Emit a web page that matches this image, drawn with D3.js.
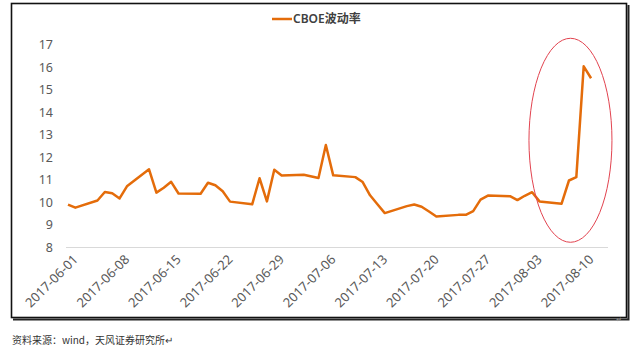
<!DOCTYPE html>
<html>
<head lang="zh">
	<meta charset="UTF-8">
	<title>CBOE波动率</title>
	<script src="https://cdnjs.cloudflare.com/ajax/libs/d3/7.8.5/d3.min.js"></script>
	<style type="text/css">
		body { margin: 0; background: #fff; }
		svg text { font-family: "Noto Sans", "Noto Sans CJK SC", sans-serif; }
	</style>
</head>
<body>
	<svg id="chart" width="640" height="355" version="1.1" xmlns="http://www.w3.org/2000/svg"></svg>
	<script type="text/javascript">
		// trading days and CBOE VIX close
		var dates = [
			'2017-06-01','2017-06-02','2017-06-05','2017-06-06','2017-06-07','2017-06-08','2017-06-09',
			'2017-06-12','2017-06-13','2017-06-14','2017-06-15','2017-06-16','2017-06-19','2017-06-20',
			'2017-06-21','2017-06-22','2017-06-23','2017-06-26','2017-06-27','2017-06-28','2017-06-29',
			'2017-06-30','2017-07-03','2017-07-05','2017-07-06','2017-07-07','2017-07-10','2017-07-11',
			'2017-07-12','2017-07-13','2017-07-14','2017-07-17','2017-07-18','2017-07-19','2017-07-20',
			'2017-07-21','2017-07-24','2017-07-25','2017-07-26','2017-07-27','2017-07-28','2017-07-31',
			'2017-08-01','2017-08-02','2017-08-03','2017-08-04','2017-08-07','2017-08-08','2017-08-09',
			'2017-08-10','2017-08-11'
		];
		var vix = [
			9.89, 9.75, 10.07, 10.45, 10.39, 10.16, 10.70,
			11.46, 10.42, 10.64, 10.90, 10.38, 10.37, 10.86,
			10.75, 10.48, 10.02, 9.90, 11.06, 10.03, 11.44,
			11.18, 11.22, 11.07, 12.54, 11.19, 11.11, 10.89,
			10.30, 9.90, 9.51, 9.82, 9.89, 9.79, 9.58,
			9.36, 9.43, 9.43, 9.60, 10.11, 10.29, 10.26,
			10.09, 10.28, 10.44, 10.03, 9.93, 10.96, 11.11,
			16.04, 15.51
		];
		var xTicks = ['2017-06-01','2017-06-08','2017-06-15','2017-06-22','2017-06-29','2017-07-06',
			'2017-07-13','2017-07-20','2017-07-27','2017-08-03','2017-08-10'];
		var yTicks = [8, 9, 10, 11, 12, 13, 14, 15, 16, 17];
		var seriesName = 'CBOE波动率';
		var source = '资料来源：wind，天风证券研究所↵';

		var parse = d3.timeParse('%Y-%m-%d');
		var fmt = d3.timeFormat('%Y-%m-%d');
		var points = dates.map(function (d, i) { return { date: parse(d), value: vix[i] }; });

		var orange = '#e46c0a';
		var svg = d3.select('#chart');

		// outer frame with a little shadow on right/bottom
		svg.append('path')
			.attr('d', 'M628.5,5V319.5H13')
			.attr('fill', 'none').attr('stroke', '#222').attr('stroke-width', 2);
		svg.append('rect')
			.attr('x', 11.5).attr('y', 3.5).attr('width', 615).attr('height', 314)
			.attr('fill', 'none').attr('stroke', '#111').attr('stroke-width', 1.6);

		var x = d3.scaleTime()
			.domain([parse('2017-06-01'), parse('2017-08-13')])
			.range([68, 605.8]);
		var y = d3.scaleLinear().domain([8, 17]).range([247, 44.8]);

		// y axis labels
		var yAxis = svg.append('g')
			.attr('transform', 'translate(66,0)')
			.call(d3.axisLeft(y).tickValues(yTicks).tickSize(0).tickPadding(13));
		yAxis.select('.domain').remove();
		yAxis.selectAll('text').attr('fill', '#595959').style('font-size', '12.5px');

		// x axis
		var xAxis = svg.append('g')
			.attr('transform', 'translate(0,' + y(8) + ')')
			.call(d3.axisBottom(x).tickValues(xTicks.map(parse)).tickFormat(fmt).tickSize(0));
		xAxis.select('.domain').attr('stroke', '#d9d9d9').attr('d', 'M66,0.5H608');
		xAxis.selectAll('text')
			.attr('fill', '#595959')
			.style('font-size', '13px')
			.attr('text-anchor', 'end')
			.attr('x', 0).attr('y', 0).attr('dy', '0.35em')
			.attr('transform', 'translate(7,10) rotate(-45)');

		// series line
		var line = d3.line()
			.x(function (d) { return x(d.date); })
			.y(function (d) { return y(d.value); });
		svg.append('path')
			.datum(points)
			.attr('d', line)
			.attr('fill', 'none')
			.attr('stroke', orange)
			.attr('stroke-width', 2.5)
			.attr('stroke-linejoin', 'round');

		// red annotation ellipse around the spike
		svg.append('ellipse')
			.attr('cx', x(parse('2017-08-08')) + 1.5)
			.attr('cy', y(12.75))
			.attr('rx', 41.5).attr('ry', 102)
			.attr('fill', 'none').attr('stroke', '#e2434f').attr('stroke-width', 1);

		// legend
		var legend = svg.append('g').attr('transform', 'translate(272,19)');
		legend.append('line').attr('x1', 0).attr('x2', 20).attr('y1', 0).attr('y2', 0)
			.attr('stroke', orange).attr('stroke-width', 2.5);
		legend.append('text').attr('x', 21).attr('y', 0).attr('dy', '0.35em')
			.attr('fill', '#404040').style('font-size', '12px').style('font-weight', '600')
			.text(seriesName);

		// source note
		svg.append('text').attr('x', 12).attr('y', 344)
			.attr('fill', '#333').style('font-size', '10px')
			.style('font-family', '"Noto Sans CJK SC", serif')
			.text(source);
		svg.append('text').attr('x', 616).attr('y', 322)
			.attr('fill', '#999').style('font-size', '7px').text('↵');
	</script>
</body>
</html>
